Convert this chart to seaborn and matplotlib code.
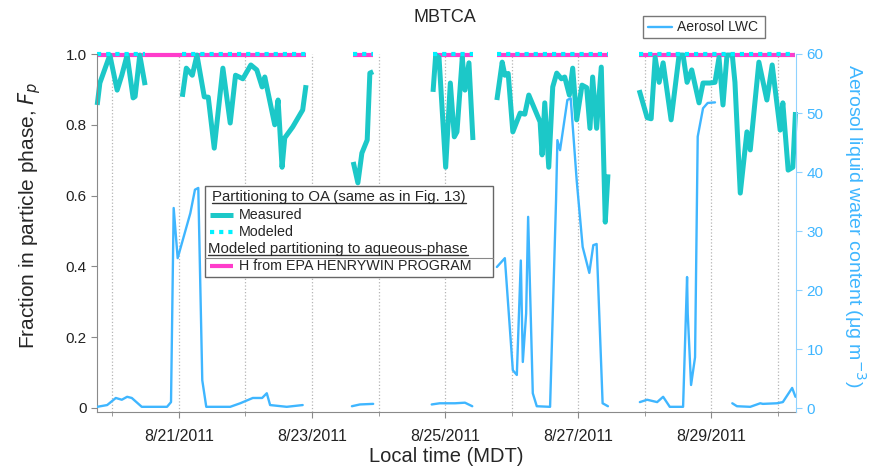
import numpy as np
import pandas as pd
import seaborn as sns
import matplotlib.pyplot as plt
import matplotlib.dates as mdates
from matplotlib.lines import Line2D
from matplotlib.patches import Rectangle

# Days of August 2011 (fractional), one sub-list per measurement period
meas_days = [
    [19.77, 19.81, 19.96, 20.07, 20.14, 20.22, 20.31, 20.34, 20.41, 20.49],
    [21.05, 21.11, 21.20, 21.27, 21.38, 21.44, 21.53, 21.66, 21.77, 21.85, 21.96, 22.08,
     22.17, 22.25, 22.29, 22.44, 22.49, 22.55, 22.59, 22.71, 22.86, 22.91],
    [23.62, 23.69, 23.75, 23.83, 23.87, 23.92],
    [24.82, 24.86, 24.91, 25.01, 25.08, 25.14, 25.18, 25.26, 25.30, 25.36, 25.42],
    [25.78, 25.86, 25.90, 25.95, 26.02, 26.13, 26.20, 26.26, 26.43, 26.46, 26.50, 26.56,
     26.62, 26.68, 26.75, 26.80, 26.87, 26.92, 26.98, 27.06, 27.13, 27.18, 27.22, 27.28,
     27.35, 27.41, 27.45],
    [27.92, 28.04, 28.10, 28.16, 28.22, 28.28, 28.40, 28.52, 28.58, 28.64, 28.71, 28.82,
     28.88, 28.98, 29.06, 29.12, 29.18, 29.24, 29.32, 29.36, 29.44, 29.54, 29.59, 29.72,
     29.84, 29.92, 30.04, 30.08, 30.16, 30.23, 30.27],
]
meas_fp = [
    [0.856, 0.918, 0.997, 0.898, 0.94, 0.997, 0.876, 0.88, 0.997, 0.912],
    [0.879, 0.96, 0.94, 0.997, 0.879, 0.878, 0.734, 0.96, 0.805, 0.94, 0.93, 0.969,
     0.955, 0.907, 0.935, 0.80, 0.87, 0.68, 0.763, 0.794, 0.842, 0.912],
    [0.695, 0.636, 0.72, 0.757, 0.946, 0.95],
    [0.893, 0.997, 0.99, 0.68, 0.918, 0.766, 0.78, 0.99, 0.898, 0.975, 0.757],
    [0.87, 0.977, 0.94, 0.945, 0.78, 0.833, 0.83, 0.884, 0.808, 0.715, 0.862, 0.68,
     0.907, 0.946, 0.93, 0.935, 0.884, 0.96, 0.814, 0.912, 0.905, 0.79, 0.935, 0.79,
     0.963, 0.525, 0.66],
    [0.898, 0.82, 0.817, 0.99, 0.92, 0.975, 0.814, 0.997, 0.997, 0.92, 0.955, 0.862,
     0.918, 0.918, 0.92, 0.99, 0.856, 0.997, 0.997, 0.92, 0.607, 0.78, 0.729, 0.977,
     0.87, 0.969, 0.785, 0.862, 0.672, 0.68, 0.836],
]

# Modeled partitioning to OA (near 1 throughout each period)
model_days = [[19.77, 20.49], [21.05, 22.91], [23.62, 23.92], [24.82, 25.42],
              [25.78, 27.45], [27.92, 30.27]]
model_fp = [[0.999, 0.999], [0.999, 0.999], [0.999, 0.999], [0.999, 0.999],
            [0.999, 0.999], [0.999, 0.999]]

# Henry's law (HENRYWIN) partitioning to aqueous phase
henry_days = [[19.77, 22.91], [23.62, 23.92], [24.82, 25.42], [25.78, 27.45], [27.92, 30.27]]
henry_fp = [[0.998, 0.998], [0.998, 0.998], [0.998, 0.998], [0.998, 0.998], [0.998, 0.998]]

# Aerosol liquid water content (ug m-3)
lwc_days = [
    [19.77, 19.92, 20.05, 20.14, 20.22, 20.29, 20.44, 20.82, 20.88, 20.92, 20.98, 21.17,
     21.24, 21.29, 21.35, 21.41, 21.77, 21.92, 22.11, 22.25, 22.32, 22.37, 22.62, 22.86],
    [23.60, 23.72, 23.92],
    [24.80, 24.92, 25.15, 25.30, 25.41],
    [25.78, 25.90, 26.02, 26.08, 26.14, 26.17, 26.22, 26.25, 26.32, 26.38, 26.58, 26.67,
     26.69, 26.73, 26.84, 26.89, 26.98, 27.07, 27.17, 27.23, 27.28, 27.37, 27.45],
    [27.93, 28.04, 28.19, 28.28, 28.38, 28.58, 28.64, 28.65, 28.70, 28.76, 28.80, 28.88,
     28.95, 29.06],
    [29.32, 29.39, 29.59, 29.74, 29.78, 29.99, 30.08, 30.22, 30.27],
]
lwc_vals = [
    [0.2, 0.5, 1.7, 1.4, 1.9, 1.7, 0.2, 0.2, 1.0, 33.9, 25.4, 33.0,
     37.0, 37.3, 4.7, 0.2, 0.2, 0.8, 1.7, 1.7, 2.5, 0.5, 0.2, 0.5],
    [0.3, 0.6, 0.7],
    [0.6, 0.8, 0.8, 0.9, 0.3],
    [23.9, 25.4, 6.4, 5.6, 25.0, 7.8, 16.0, 32.4, 2.5, 0.3, 0.2, 35.3,
     45.4, 43.7, 52.2, 52.5, 38.6, 27.3, 22.9, 27.6, 27.8, 0.8, 0.3],
    [1.0, 1.4, 1.0, 1.9, 0.2, 0.2, 22.2, 16.0, 3.9, 8.6, 46.0, 50.8, 51.7, 51.8],
    [0.8, 0.3, 0.2, 0.8, 0.7, 0.8, 1.0, 3.4, 1.9],
]

x_range = [19.767, 30.278]
major_days = [21, 23, 25, 27, 29]
minor_days = [20, 22, 24, 26, 28, 30]
fp_ticks = [0, 0.2, 0.4, 0.6, 0.8, 1.0]
fp_ticklabels = ['0', '0.2', '0.4', '0.6', '0.8', '1.0']
lwc_ticks = [0, 10, 20, 30, 40, 50, 60]

C_MEAS = '#1cc8c8'
C_MODEL = '#00f2ff'
C_HENRY = '#ff3ccb'
C_LWC = '#3fb6ff'
C_RAXIS = '#8fd2ff'
C_GRAY = '#8a8a8a'


def day_to_time(d):
    return pd.Timestamp('2011-08-01') + pd.to_timedelta(np.asarray(d, dtype=float) - 1, unit='D')


def to_frame(days, vals):
    rows = []
    for i, (dd, vv) in enumerate(zip(days, vals)):
        for d, v in zip(dd, vv):
            rows.append((i, d, v))
    df = pd.DataFrame(rows, columns=['seg', 'day', 'value'])
    df['time'] = day_to_time(df['day'])
    return df


meas_df = to_frame(meas_days, meas_fp)
model_df = to_frame(model_days, model_fp)
henry_df = to_frame(henry_days, henry_fp)
lwc_df = to_frame(lwc_days, lwc_vals)

sns.set_style("ticks")
plt.rcParams['font.family'] = ['Liberation Sans', 'DejaVu Sans']

fig = plt.figure(figsize=(8.7, 4.69), dpi=100)
ax = fig.add_axes([97 / 870, 1 - 411.5 / 469, 699 / 870, 357.5 / 469])
ax2 = ax.twinx()

# left axis: particle-phase fraction
sns.lineplot(data=henry_df, x='time', y='value', units='seg', estimator=None, sort=False,
             color=C_HENRY, lw=3.0, ax=ax, legend=False)
sns.lineplot(data=meas_df, x='time', y='value', units='seg', estimator=None, sort=False,
             color=C_MEAS, lw=3.6, ax=ax, legend=False)
sns.lineplot(data=model_df, x='time', y='value', units='seg', estimator=None, sort=False,
             color=C_MODEL, lw=3.0, ls=(0, (1, 1.2)), ax=ax, legend=False)
for ln in ax.lines:
    ln.set_clip_on(False)
    ln.set_solid_capstyle('butt')

# right axis: liquid water content
sns.lineplot(data=lwc_df, x='time', y='value', units='seg', estimator=None, sort=False,
             color=C_LWC, lw=1.7, ax=ax2, legend=False)

t0, t1 = day_to_time(x_range)
ax.set_xlim(t0, t1)
ax.set_ylim(-0.01, 1.0)
ax2.set_ylim(-0.593, 60)

ax.set_xticks(day_to_time(major_days))
ax.set_xticks(day_to_time(minor_days), minor=True)
ax.xaxis.set_major_formatter(plt.FuncFormatter(
    lambda v, p: (lambda d: f"{d.month}/{d.day}/{d.year}")(mdates.num2date(v))))
ax.grid(axis='x', which='both', ls=':', color='#b5b5b5', lw=0.9)

ax.set_yticks(fp_ticks)
ax.set_yticklabels(fp_ticklabels)
ax2.set_yticks(lwc_ticks)

for s in ['top', 'right']:
    ax.spines[s].set_visible(False)
for s in ['top', 'left', 'bottom']:
    ax2.spines[s].set_visible(False)
ax.spines['left'].set_color(C_GRAY)
ax.spines['bottom'].set_color(C_GRAY)
ax2.spines['right'].set_color(C_RAXIS)

ax.tick_params(axis='both', which='major', length=4.5, color=C_GRAY, labelsize=11,
               labelcolor='#222222', direction='out', pad=3)
ax.tick_params(axis='x', which='minor', length=3, color=C_GRAY, direction='out')
ax.tick_params(axis='x', labelsize=11.5, pad=8)
ax2.tick_params(axis='y', length=4.5, color=C_RAXIS, labelcolor=C_LWC, labelsize=11, pad=3)

ax.set_xlabel('Local time (MDT)', fontsize=14.5)
ax.xaxis.set_label_coords(0.5, -0.127)
ax.xaxis.label.set_va('center')
ax.set_ylabel('Fraction in particle phase, $F_p$', fontsize=15)
ax.yaxis.set_label_coords(-0.097, 0.55)
ax.yaxis.label.set_va('center')
ax2.set_ylabel('Aerosol liquid water content (\u03bcg m$^{-3}$)', fontsize=14,
               color=C_LWC, rotation=270)
ax2.yaxis.set_label_coords(1.084, 0.52)
ax2.yaxis.label.set_va('center')

fig.text(445 / 870, 1 - 18 / 469, 'MBTCA', ha='center', va='center', fontsize=13)


def fx(px):
    return px / 870


def fy(py):
    return 1 - py / 469


# legend for partitioning (drawn by hand to get header rows)
fig.add_artist(Rectangle((fx(205), fy(277)), fx(493) - fx(205), fy(186) - fy(277),
                         transform=fig.transFigure, fc='white', ec='#666666', lw=1.0, zorder=4))
hdr1 = fig.text(fx(212), fy(197), 'Partitioning to OA (same as in Fig. 13)',
                va='center', fontsize=10.8, zorder=5)
hdr2 = fig.text(fx(208), fy(249), 'Modeled partitioning to aqueous-phase',
                va='center', fontsize=10.8, zorder=5)
rows = [(215, 'Measured', C_MEAS, '-', 3.6), (232, 'Modeled', C_MODEL, (0, (1, 1.2)), 3.0),
        (266, 'H from EPA HENRYWIN PROGRAM', C_HENRY, '-', 3.0)]
for py, lab, col, ls, lw in rows:
    fig.add_artist(Line2D([fx(210), fx(233)], [fy(py), fy(py)], transform=fig.transFigure,
                          color=col, ls=ls, lw=lw, zorder=5, solid_capstyle='butt'))
    fig.text(fx(239), fy(py), lab, va='center', fontsize=10.3, zorder=5)

# legend for LWC
fig.add_artist(Rectangle((fx(643), fy(38)), fx(765) - fx(643), fy(16) - fy(38),
                         transform=fig.transFigure, fc='white', ec='#777777', lw=1.0, zorder=4))
fig.add_artist(Line2D([fx(648), fx(672)], [fy(27), fy(27)], transform=fig.transFigure,
                      color=C_LWC, lw=1.7, zorder=5))
fig.text(fx(677), fy(27), 'Aerosol LWC', va='center', fontsize=10, zorder=5)

# underline the header rows
fig.canvas.draw()
inv = fig.transFigure.inverted()
for t in [hdr1, hdr2]:
    bb = t.get_window_extent().transformed(inv)
    fig.add_artist(Line2D([bb.x0, bb.x1], [bb.y0 + 0.002, bb.y0 + 0.002],
                          transform=fig.transFigure, color='#333333', lw=1.0, zorder=5))
fig.add_artist(Line2D([fx(205), fx(493)], [fy(258), fy(258)], transform=fig.transFigure,
                      color='#888888', lw=0.8, zorder=5))

fig.savefig('out.png', dpi=100)
